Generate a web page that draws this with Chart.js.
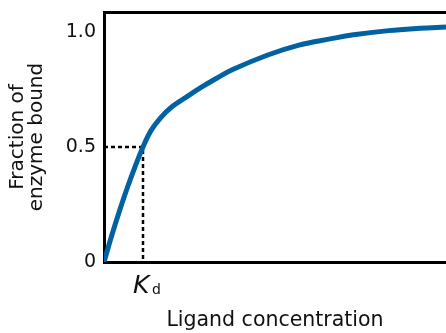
<!DOCTYPE html>
<html>
<head>
<meta charset="utf-8">
<script src="https://cdn.jsdelivr.net/npm/chart.js@4"></script>
<style>
  html, body { margin: 0; padding: 0; background: #fff; }
  #wrap { width: 446px; height: 333px; position: relative; }
</style>
</head>
<body>
<div id="wrap"><canvas id="c"></canvas></div>
<script>
// Ligand concentration in units of Kd, and fraction of enzyme bound
const ligandConc = [0, 0.2, 0.4, 0.6, 0.8, 1.0, 1.2, 1.45, 1.75, 2.1, 2.5, 2.9, 3.3, 4.2, 5.0, 5.8, 6.4, 7.3, 8.1, 8.77];
const fractionBound = [0, 0.116, 0.224, 0.324, 0.416, 0.5, 0.570, 0.627, 0.676, 0.716, 0.760, 0.800, 0.837, 0.900, 0.943, 0.970, 0.988, 1.006, 1.016, 1.022];
const kd = 1.0;
const halfBound = 0.5;
const yTickValues = [0, 0.5, 1.0];
const yTickLabels = ['0', '0.5', '1.0'];

const FONT = '"DejaVu Sans", "Noto Sans", sans-serif';
const BLUE = '#0062a0';

const curve = ligandConc.map((x, i) => ({ x, y: fractionBound[i] }));
const kdGuide = [{ x: 0, y: halfBound }, { x: kd, y: halfBound }, { x: kd, y: 0 }];

// Draws the "K" with subscript "d" under the x position of Kd
const kdLabel = {
  id: 'kdLabel',
  afterDraw(chart) {
    const ctx = chart.ctx;
    const px = chart.scales.x.getPixelForValue(kd);
    const base = chart.scales.y.getPixelForValue(0);
    ctx.save();
    ctx.fillStyle = '#111';
    ctx.textBaseline = 'alphabetic';
    ctx.textAlign = 'left';
    ctx.font = 'italic 25px ' + FONT;
    ctx.fillText('K', px - 10, base + 31);
    ctx.font = '14px ' + FONT;
    ctx.fillText('d', px + 9, base + 32);
    ctx.restore();
  }
};

new Chart(document.getElementById('c'), {
  type: 'line',
  data: {
    datasets: [
      {
        data: kdGuide,
        borderColor: '#000',
        borderWidth: 2.5,
        borderDash: [4, 3],
        pointRadius: 0,
        tension: 0,
        order: 2
      },
      {
        data: curve,
        borderColor: BLUE,
        borderWidth: 5,
        pointRadius: 0,
        tension: 0.4,
        borderCapStyle: 'butt',
        order: 1
      }
    ]
  },
  options: {
    responsive: true,
    maintainAspectRatio: false,
    animation: false,
    layout: { padding: { left: 8, right: 0, top: 0, bottom: 0 } },
    plugins: { legend: { display: false }, tooltip: { enabled: false } },
    scales: {
      x: {
        type: 'linear',
        min: 0,
        max: 8.77,
        grid: { display: false, drawTicks: false },
        border: { color: '#000', width: 3 },
        ticks: { display: false },
        title: {
          display: true,
          text: 'Ligand concentration',
          color: '#111',
          font: { family: FONT, size: 20.5, lineHeight: 1.2 },
          padding: { top: 0, bottom: 0 }
        },
        afterFit(scale) { scale.height = 71; scale.paddingLeft = 0; scale.paddingRight = 0; }
      },
      xTop: {
        type: 'linear',
        position: 'top',
        min: 0,
        max: 8.77,
        grid: { display: false, drawTicks: false },
        border: { color: '#000', width: 3 },
        ticks: { display: false },
        afterFit(scale) { scale.height = 12; scale.paddingLeft = 0; scale.paddingRight = 0; }
      },
      y: {
        type: 'linear',
        min: 0,
        max: 1.087,
        grid: { display: false, drawTicks: false },
        border: { color: '#000', width: 3 },
        afterBuildTicks(scale) { scale.ticks = yTickValues.map(v => ({ value: v })); },
        ticks: {
          color: '#111',
          padding: 8,
          font: { family: FONT, size: 19 },
          callback: (v) => yTickLabels[yTickValues.indexOf(v)]
        },
        title: {
          display: true,
          text: ['Fraction of', 'enzyme bound'],
          color: '#111',
          font: { family: FONT, size: 20, lineHeight: 0.95 },
          padding: { top: 0, bottom: 0 }
        },
        afterFit(scale) { scale.width = 96; scale.paddingTop = 0; scale.paddingBottom = 0; }
      }
    }
  },
  plugins: [kdLabel]
});
</script>
</body>
</html>
